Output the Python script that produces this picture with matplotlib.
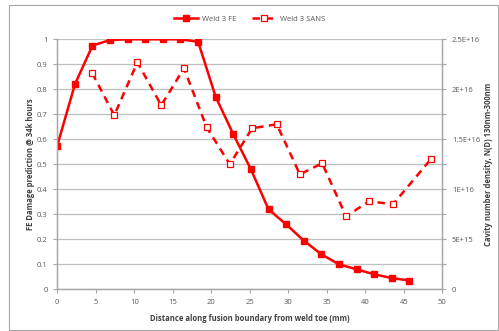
import matplotlib
matplotlib.use("Agg")
import matplotlib.pyplot as plt
from matplotlib.patches import Rectangle
from matplotlib.ticker import MultipleLocator, FuncFormatter

# FE damage prediction (left axis)
fe_x = [0.0, 2.29, 4.57, 6.86, 9.14, 11.43, 13.71, 16.0, 18.29, 20.57, 22.86,
        25.14, 27.43, 29.71, 32.0, 34.29, 36.57, 38.86, 41.14, 43.43, 45.71]
fe_y = [0.575, 0.82, 0.975, 0.997, 1.0, 1.0, 1.0, 1.0, 0.99, 0.77, 0.62,
        0.48, 0.32, 0.26, 0.195, 0.14, 0.10, 0.08, 0.06, 0.045, 0.035]

# SANS cavity number density (right axis)
sans_x = [4.55, 7.4, 10.4, 13.5, 16.45, 19.4, 22.4, 25.3, 28.5, 31.5,
          34.4, 37.5, 40.5, 43.6, 48.5]
sans_y = [2.16e16, 1.74e16, 2.27e16, 1.84e16, 2.21e16, 1.62e16, 1.25e16, 1.61e16,
          1.65e16, 1.15e16, 1.26e16, 7.3e15, 8.8e15, 8.5e15, 1.30e16]

right_ticks = [0, 5e15, 1e16, 1.5e16, 2e16, 2.5e16]
right_labels = ["0", "5E+15", "1E+16", "1.5E+16", "2E+16", "2.5E+16"]

RED = "#ff0000"
GRID = "#bfbfbf"
TXT = "#595959"
FS = 5.5

plt.rcParams["font.family"] = ["Open Sans", "DejaVu Sans"]

fig = plt.figure(figsize=(4.99, 3.31), dpi=100)
fig.patches.append(Rectangle((9 / 499, 1 / 331), 489 / 499, 325 / 331,
                             transform=fig.transFigure, fill=False,
                             edgecolor="#a6a6a6", linewidth=0.8))

ax = fig.add_axes([0.1148, 0.126, 0.7716, 0.7553])
ax2 = ax.twinx()

ax.set_xlim(0, 50)
ax.set_ylim(0, 1)
ax2.set_ylim(0, 2.5e16)

ax.xaxis.set_major_locator(MultipleLocator(5))
ax.yaxis.set_major_locator(MultipleLocator(0.1))
ax.yaxis.set_major_formatter(FuncFormatter(lambda v, p: f"{v:g}"))
ax.grid(axis="y", color=GRID, linewidth=0.9)
ax.set_axisbelow(True)

ax2.set_yticks(right_ticks)
ax2.set_yticklabels(right_labels)
ax2.yaxis.set_minor_locator(MultipleLocator(2.5e15))

for a in (ax, ax2):
    a.spines["top"].set_visible(False)
    for s in ("left", "right", "bottom"):
        a.spines[s].set_color("#a6a6a6")
        a.spines[s].set_linewidth(0.9)
    a.tick_params(labelsize=FS, colors=TXT, length=3, width=0.8, pad=4)
    a.tick_params(which="minor", length=3, width=0.8, color="#a6a6a6")
    a.tick_params(axis="both", color="#a6a6a6")

l1, = ax.plot(fe_x, fe_y, color=RED, linewidth=1.8, marker="s", markersize=4.5,
              markerfacecolor=RED, markeredgecolor=RED, label="Weld 3 FE", zorder=3)
l2, = ax2.plot(sans_x, sans_y, color=RED, linewidth=1.8, linestyle=(0, (3.0, 2.2)),
               marker="s", markersize=5, markerfacecolor="white", markeredgecolor=RED,
               markeredgewidth=0.9, label="Weld 3 SANS", zorder=3)

ax.set_xlabel("Distance along fusion boundary from weld toe (mm)", fontsize=FS,
              fontweight="bold", color="#404040", labelpad=6)
ax.set_ylabel("FE Damage prediction @ 34k hours", fontsize=FS,
              fontweight="bold", color="#404040", labelpad=1)
ax2.set_ylabel("Cavity number density, N(D) 130nm-300nm", fontsize=FS,
               fontweight="bold", color="#404040", labelpad=3)

fig.legend(handles=[l1, l2], loc="center", bbox_to_anchor=(0.5, 1 - 19 / 331),
           ncol=2, frameon=False, fontsize=FS, labelcolor=TXT,
           handlelength=3.2, columnspacing=2.0, handletextpad=0.5)

fig.savefig("out.png", dpi=100)
